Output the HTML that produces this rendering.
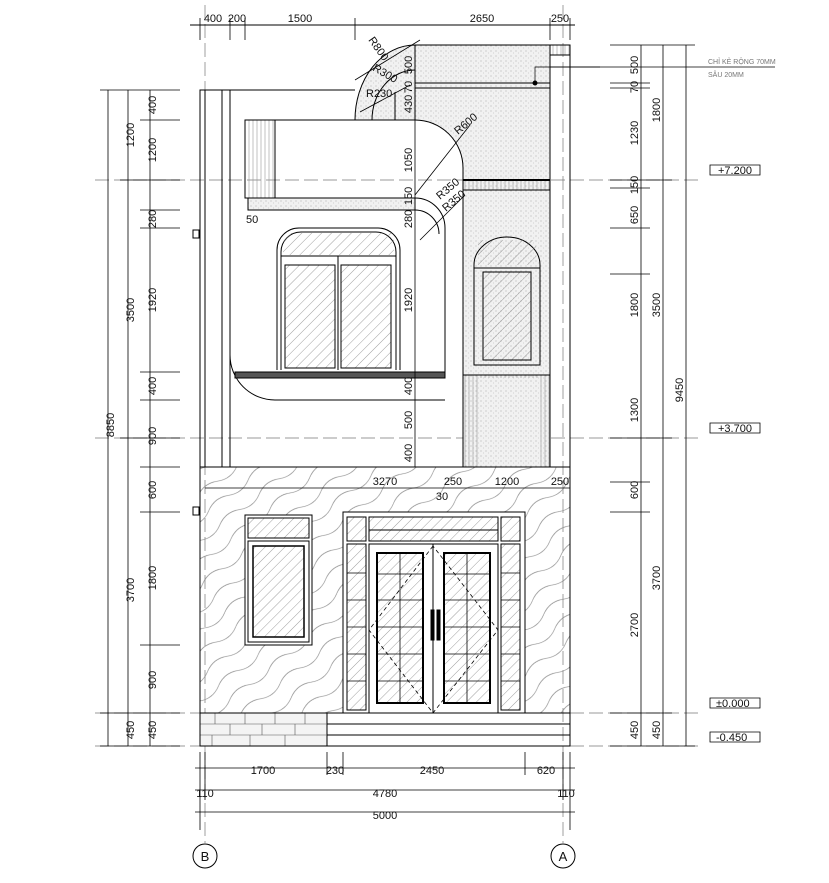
<!DOCTYPE html>
<html><head><meta charset="utf-8"><style>
html,body{margin:0;padding:0;background:#fff}
svg{display:block}
text{font-family:"Liberation Sans",sans-serif;font-size:11px;fill:#111}
</style></head><body>
<svg width="829" height="883" viewBox="0 0 829 883" xmlns="http://www.w3.org/2000/svg">
<defs>
<pattern id="hat" width="7" height="7" patternUnits="userSpaceOnUse" patternTransform="rotate(45)">
<line x1="0" y1="0" x2="0" y2="7" stroke="#777" stroke-width="0.7"/></pattern>
<pattern id="stip" width="5" height="5" patternUnits="userSpaceOnUse">
<rect width="5" height="5" fill="#f1f1f1"/><circle cx="1" cy="1" r="0.5" fill="#999"/><circle cx="3.5" cy="3" r="0.4" fill="#aaa"/></pattern>
<pattern id="wave" width="50" height="18" patternUnits="userSpaceOnUse" patternTransform="rotate(-38)">
<path d="M0 9 q12.5 -7 25 0 t25 0" fill="none" stroke="#888" stroke-width="0.7"/></pattern>
<pattern id="vl" width="4" height="10" patternUnits="userSpaceOnUse"><line x1="1" y1="0" x2="1" y2="10" stroke="#999" stroke-width="0.6"/></pattern>
</defs>
<g stroke="#000" fill="none" stroke-width="1">
<g stroke="#777" stroke-dasharray="14 5" stroke-width="0.7">
<line x1="205" y1="5" x2="205" y2="843"/><line x1="563" y1="5" x2="563" y2="843"/>
<line x1="95" y1="180" x2="700" y2="180"/><line x1="95" y1="438" x2="700" y2="438"/>
<line x1="95" y1="713" x2="700" y2="713"/><line x1="95" y1="746" x2="700" y2="746"/>
</g>
<circle cx="205" cy="856" r="12"/><circle cx="563" cy="856" r="12"/>
<line x1="190" y1="25" x2="575" y2="25"/>
<g stroke-width="0.8"><line x1="200" y1="18" x2="200" y2="40"/><line x1="230" y1="18" x2="230" y2="40"/><line x1="245" y1="18" x2="245" y2="40"/><line x1="355" y1="18" x2="355" y2="40"/><line x1="550" y1="18" x2="550" y2="40"/><line x1="570" y1="18" x2="570" y2="40"/></g>
<rect x="200" y="90" width="30" height="377"/>
<line x1="205" y1="90" x2="205" y2="467"/><line x1="222" y1="90" x2="222" y2="467"/>
<line x1="230" y1="90" x2="355" y2="90"/>
<rect x="193" y="230" width="6" height="8"/><rect x="193" y="507" width="6" height="8"/>
<path d="M415 45 H550 V467 H463 V168 A48 48 0 0 0 415 120 Z" fill="url(#stip)" stroke="none"/>
<path d="M355 120 A60 75 0 0 1 415 45 V120 Z" fill="url(#stip)"/>
<path d="M372 120 A43 50 0 0 1 415 70" /><path d="M395 120 V92"/>
<line x1="415" y1="45" x2="550" y2="45"/>
<rect x="550" y="45" width="20" height="422"/><rect x="550" y="45" width="20" height="10" fill="url(#vl)"/>
<line x1="415" y1="83" x2="550" y2="83"/><line x1="415" y1="88" x2="550" y2="88"/>
<circle cx="535" cy="83" r="2" fill="#000"/><polyline points="535,83 535,67 600,67" stroke-width="0.7"/>
<line x1="550" y1="67" x2="775" y2="67" stroke-width="0.7"/>
<path d="M245 120 H415 A48 48 0 0 1 463 168 V467"/>
<rect x="245" y="120" width="30" height="78" fill="url(#vl)"/>
<line x1="245" y1="198" x2="415" y2="198"/>
<rect x="248" y="198" width="167" height="12" fill="url(#stip)"/>
<rect x="463" y="180" width="87" height="10" fill="url(#vl)"/><line x1="463" y1="180" x2="550" y2="180" stroke-width="2"/>
<path d="M415 198 A30 30 0 0 1 445 228 V378"/><path d="M415 210 A24 24 0 0 1 439 234"/>
<path d="M277 370 V250 A22 22 0 0 1 299 228 H378 A22 22 0 0 1 400 250 V370"/>
<path d="M281 370 V252 A20 20 0 0 1 301 232 H376 A20 20 0 0 1 396 252 V370"/>
<rect x="283" y="233" width="111" height="22" fill="url(#hat)" stroke="none"/>
<line x1="281" y1="256" x2="396" y2="256"/>
<rect x="285" y="265" width="50" height="103" fill="url(#hat)"/><rect x="341" y="265" width="50" height="103" fill="url(#hat)"/>
<line x1="338" y1="256" x2="338" y2="370"/>
<path d="M230 355 A45 45 0 0 0 275 400 H445"/>
<rect x="235" y="372" width="210" height="6" fill="#555"/>
<line x1="240" y1="378" x2="445" y2="378"/>
<path d="M474 365 V265 A33 28 0 0 1 540 265 V365 Z"/>
<rect x="478" y="240" width="58" height="25" fill="url(#hat)" stroke="none"/>
<line x1="474" y1="268" x2="540" y2="268"/>
<rect x="483" y="272" width="48" height="88" fill="url(#hat)"/>
<rect x="463" y="375" width="87" height="92" fill="url(#vl)" stroke="none"/>
<rect x="478" y="378" width="60" height="89" fill="url(#stip)" stroke="none"/>
<line x1="463" y1="375" x2="550" y2="375"/>
<line x1="200" y1="467" x2="570" y2="467"/>
<rect x="200" y="467" width="370" height="246" fill="url(#wave)"/>
<rect x="200" y="467" width="370" height="246"/>
<rect x="245" y="515" width="67" height="130" fill="#fff"/>
<rect x="248" y="518" width="61" height="20" fill="url(#hat)"/>
<rect x="248" y="541" width="61" height="101"/>
<rect x="253" y="546" width="51" height="91" fill="url(#hat)" stroke-width="1.5"/>
<rect x="343" y="512" width="182" height="201" fill="#fff"/>
<rect x="347" y="517" width="19" height="24" fill="url(#hat)"/>
<rect x="369" y="517" width="129" height="24" fill="url(#hat)"/>
<rect x="501" y="517" width="19" height="24" fill="url(#hat)"/>
<line x1="369" y1="530" x2="498" y2="530"/>
<rect x="347" y="544" width="19" height="166" fill="url(#hat)"/>
<rect x="501" y="544" width="19" height="166" fill="url(#hat)"/>
<rect x="369" y="544" width="129" height="169"/>
<rect x="377" y="553" width="46" height="150" fill="url(#hat)" stroke-width="2"/>
<rect x="444" y="553" width="46" height="150" fill="url(#hat)" stroke-width="2"/>
<g stroke-width="0.8">
<line x1="400" y1="553" x2="400" y2="703"/><line x1="467" y1="553" x2="467" y2="703"/>
<line x1="377" y1="574" x2="423" y2="574"/><line x1="377" y1="600" x2="423" y2="600"/><line x1="377" y1="627" x2="423" y2="627"/><line x1="377" y1="654" x2="423" y2="654"/><line x1="377" y1="681" x2="423" y2="681"/>
<line x1="444" y1="574" x2="490" y2="574"/><line x1="444" y1="600" x2="490" y2="600"/><line x1="444" y1="627" x2="490" y2="627"/><line x1="444" y1="654" x2="490" y2="654"/><line x1="444" y1="681" x2="490" y2="681"/>
<line x1="347" y1="573" x2="366" y2="573"/><line x1="347" y1="600" x2="366" y2="600"/><line x1="347" y1="627" x2="366" y2="627"/><line x1="347" y1="654" x2="366" y2="654"/><line x1="347" y1="681" x2="366" y2="681"/>
<line x1="501" y1="573" x2="520" y2="573"/><line x1="501" y1="600" x2="520" y2="600"/><line x1="501" y1="627" x2="520" y2="627"/><line x1="501" y1="654" x2="520" y2="654"/><line x1="501" y1="681" x2="520" y2="681"/>
</g>
<g stroke-dasharray="4 3" stroke-width="0.8"><polygon points="433,546 369,630 433,713 498,630"/></g>
<line x1="433" y1="544" x2="433" y2="713"/>
<rect x="431" y="610" width="3" height="30" fill="#000"/><rect x="437" y="610" width="3" height="30" fill="#000"/>
<rect x="200" y="713" width="127" height="33" fill="#f4f4f4"/>
<g stroke-width="0.6" stroke="#555"><line x1="200" y1="724" x2="327" y2="724"/><line x1="200" y1="735" x2="327" y2="735"/>
<line x1="215" y1="713" x2="215" y2="724"/><line x1="245" y1="713" x2="245" y2="724"/><line x1="275" y1="713" x2="275" y2="724"/><line x1="305" y1="713" x2="305" y2="724"/>
<line x1="230" y1="724" x2="230" y2="735"/><line x1="262" y1="724" x2="262" y2="735"/><line x1="295" y1="724" x2="295" y2="735"/>
<line x1="212" y1="735" x2="212" y2="746"/><line x1="250" y1="735" x2="250" y2="746"/><line x1="285" y1="735" x2="285" y2="746"/></g>
<rect x="200" y="713" width="370" height="33"/>
<line x1="327" y1="724" x2="570" y2="724"/><line x1="327" y1="735" x2="570" y2="735"/>
<line x1="205" y1="488" x2="570" y2="488" stroke-width="0.8"/>
<g stroke-width="0.8">
<line x1="108" y1="90" x2="108" y2="746"/><line x1="128" y1="90" x2="128" y2="746"/><line x1="150" y1="90" x2="150" y2="746"/>
<line x1="100" y1="90" x2="180" y2="90"/><line x1="140" y1="120" x2="180" y2="120"/><line x1="120" y1="180" x2="180" y2="180"/>
<line x1="140" y1="210" x2="180" y2="210"/><line x1="140" y1="228" x2="180" y2="228"/><line x1="140" y1="372" x2="180" y2="372"/><line x1="140" y1="400" x2="180" y2="400"/>
<line x1="120" y1="438" x2="180" y2="438"/><line x1="140" y1="467" x2="180" y2="467"/><line x1="140" y1="512" x2="180" y2="512"/><line x1="140" y1="645" x2="180" y2="645"/>
<line x1="100" y1="713" x2="180" y2="713"/><line x1="100" y1="746" x2="180" y2="746"/>
<line x1="641" y1="45" x2="641" y2="746"/><line x1="663" y1="45" x2="663" y2="746"/><line x1="686" y1="45" x2="686" y2="746"/>
<line x1="610" y1="45" x2="695" y2="45"/><line x1="610" y1="83" x2="650" y2="83"/><line x1="610" y1="88" x2="650" y2="88"/>
<line x1="610" y1="180" x2="672" y2="180"/><line x1="610" y1="188" x2="650" y2="188"/><line x1="610" y1="228" x2="650" y2="228"/><line x1="610" y1="274" x2="650" y2="274"/>
<line x1="610" y1="438" x2="672" y2="438"/><line x1="610" y1="482" x2="650" y2="482"/><line x1="610" y1="512" x2="650" y2="512"/>
<line x1="610" y1="713" x2="672" y2="713"/><line x1="610" y1="746" x2="695" y2="746"/>
<line x1="195" y1="768" x2="575" y2="768"/><line x1="195" y1="790" x2="575" y2="790"/><line x1="195" y1="812" x2="575" y2="812"/>
<line x1="200" y1="752" x2="200" y2="830"/><line x1="570" y1="752" x2="570" y2="830"/><line x1="205" y1="752" x2="205" y2="800"/><line x1="563" y1="752" x2="563" y2="800"/>
<line x1="327" y1="752" x2="327" y2="775"/><line x1="343" y1="752" x2="343" y2="775"/><line x1="525" y1="752" x2="525" y2="775"/>
<line x1="415" y1="45" x2="415" y2="467"/>
<line x1="355" y1="80" x2="420" y2="40"/><line x1="360" y1="112" x2="410" y2="85"/>
<line x1="415" y1="195" x2="470" y2="125"/><line x1="420" y1="240" x2="465" y2="195"/>
</g>
<g stroke-width="0.8">
<path d="M710 165 H760 V175 H710 Z"/><path d="M710 423 H760 V433 H710 Z"/><path d="M710 698 H760 V708 H710 Z"/><path d="M710 732 H760 V742 H710 Z"/>
</g>
</g>
<g>
<text x="213" y="22" text-anchor="middle">400</text><text x="237" y="22" text-anchor="middle">200</text><text x="300" y="22" text-anchor="middle">1500</text><text x="482" y="22" text-anchor="middle">2650</text><text x="560" y="22" text-anchor="middle">250</text>
<text x="385" y="485" text-anchor="middle">3270</text><text x="453" y="485" text-anchor="middle">250</text><text x="507" y="485" text-anchor="middle">1200</text><text x="560" y="485" text-anchor="middle">250</text><text x="442" y="500" text-anchor="middle">30</text>
<text x="246" y="223">50</text>
<text x="263" y="774" text-anchor="middle">1700</text><text x="335" y="774" text-anchor="middle">230</text><text x="432" y="774" text-anchor="middle">2450</text><text x="546" y="774" text-anchor="middle">620</text>
<text x="205" y="797" text-anchor="middle">110</text><text x="385" y="797" text-anchor="middle">4780</text><text x="566" y="797" text-anchor="middle">110</text>
<text x="385" y="819" text-anchor="middle">5000</text>
<text x="205" y="861" text-anchor="middle" style="font-size:13px">B</text><text x="563" y="861" text-anchor="middle" style="font-size:13px">A</text>
<text x="718" y="174">+7.200</text><text x="718" y="432">+3.700</text><text x="716" y="707">±0.000</text><text x="716" y="741">-0.450</text>
<text x="708" y="64" style="font-size:7px;fill:#777">CHỈ KẺ RỘNG 70MM</text><text x="708" y="77" style="font-size:7px;fill:#777">SÂU 20MM</text>
<text transform="translate(368,40) rotate(55)">R800</text>
<text transform="translate(372,70) rotate(30)">R300</text>
<text x="366" y="97">R230</text>
<text transform="translate(458,135) rotate(-40)">R600</text>
<text transform="translate(440,200) rotate(-40)">R350</text>
<text transform="translate(446,212) rotate(-40)">R350</text>
<g text-anchor="middle">
<text transform="translate(114,425) rotate(-90)">8850</text>
<text transform="translate(134,135) rotate(-90)">1200</text><text transform="translate(134,310) rotate(-90)">3500</text><text transform="translate(134,590) rotate(-90)">3700</text><text transform="translate(134,730) rotate(-90)">450</text>
<text transform="translate(156,105) rotate(-90)">400</text><text transform="translate(156,150) rotate(-90)">1200</text><text transform="translate(156,219) rotate(-90)">280</text><text transform="translate(156,300) rotate(-90)">1920</text><text transform="translate(156,386) rotate(-90)">400</text><text transform="translate(156,436) rotate(-90)">900</text><text transform="translate(156,490) rotate(-90)">600</text><text transform="translate(156,578) rotate(-90)">1800</text><text transform="translate(156,680) rotate(-90)">900</text><text transform="translate(156,730) rotate(-90)">450</text>
<text transform="translate(412,65) rotate(-90)">500</text><text transform="translate(412,87) rotate(-90)">70</text><text transform="translate(412,104) rotate(-90)">430</text><text transform="translate(412,160) rotate(-90)">1050</text><text transform="translate(412,196) rotate(-90)">150</text><text transform="translate(412,219) rotate(-90)">280</text><text transform="translate(412,300) rotate(-90)">1920</text><text transform="translate(412,386) rotate(-90)">400</text><text transform="translate(412,420) rotate(-90)">500</text><text transform="translate(412,453) rotate(-90)">400</text>
<text transform="translate(638,65) rotate(-90)">500</text><text transform="translate(638,87) rotate(-90)">70</text><text transform="translate(638,133) rotate(-90)">1230</text><text transform="translate(638,185) rotate(-90)">150</text><text transform="translate(638,215) rotate(-90)">650</text><text transform="translate(638,305) rotate(-90)">1800</text><text transform="translate(638,410) rotate(-90)">1300</text><text transform="translate(638,490) rotate(-90)">600</text><text transform="translate(638,625) rotate(-90)">2700</text><text transform="translate(638,730) rotate(-90)">450</text>
<text transform="translate(660,110) rotate(-90)">1800</text><text transform="translate(660,305) rotate(-90)">3500</text><text transform="translate(660,578) rotate(-90)">3700</text><text transform="translate(660,730) rotate(-90)">450</text>
<text transform="translate(683,390) rotate(-90)">9450</text>
</g>
</g>
</svg>
</body></html>
